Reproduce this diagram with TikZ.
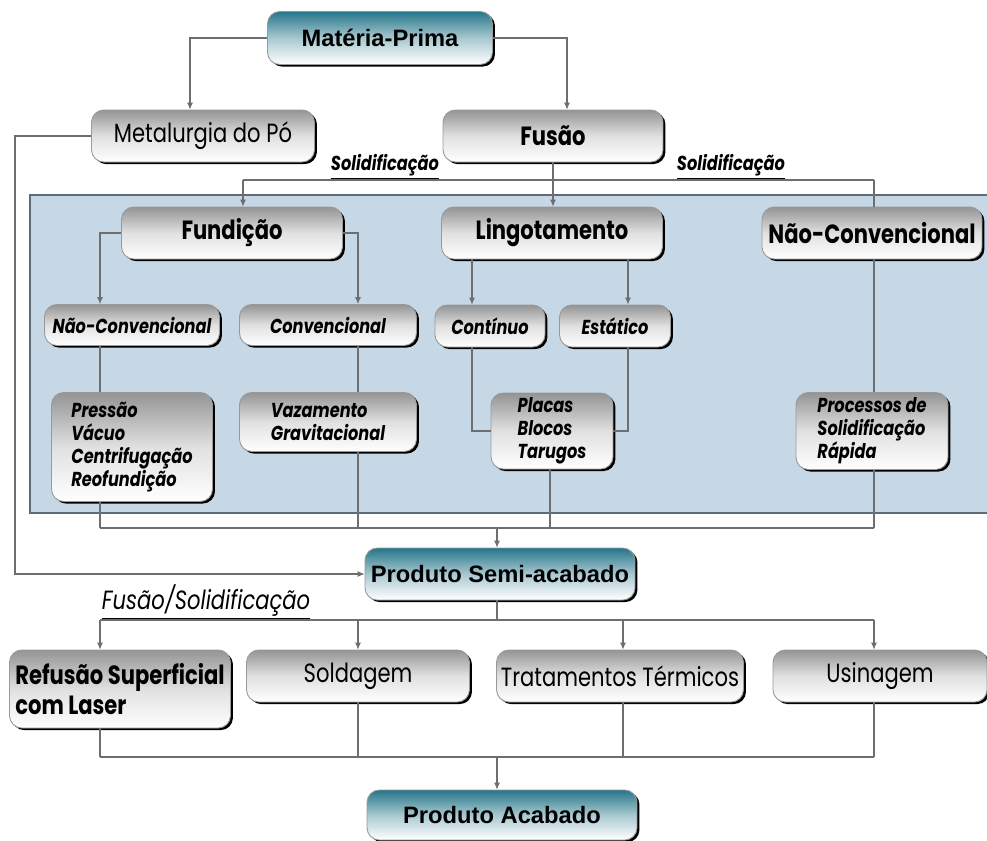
\documentclass[tikz,border=0pt]{standalone}
\usepackage{fontspec}
\setmainfont{Poppins}[FakeStretch=0.8]
\newfontfamily\headfont{Liberation Sans}
\usetikzlibrary{arrows.meta,shadows}

\definecolor{boxteal}{RGB}{38,118,138}
\definecolor{panelblue}{RGB}{198,216,229}
\definecolor{panelline}{RGB}{95,108,120}
\definecolor{linegray}{RGB}{110,110,110}

\tikzset{
  gbox/.style={rounded corners=7pt, draw=black!40, line width=0.5pt,
    top color=black!42, bottom color=white, middle color=black!12,
    drop shadow={shadow xshift=1.4pt,shadow yshift=-1.2pt,opacity=1,fill=black},
    align=center, inner sep=1pt},
  tbox/.style={gbox, top color=boxteal, bottom color=white, middle color=boxteal!40,
    font=\headfont\bfseries\fontsize{13.5}{15}\selectfont},
  txtr/.style={font=\fontsize{15}{18}\selectfont},
  txtb/.style={font=\bfseries\fontsize{15}{17}\selectfont},
  txti/.style={font=\bfseries\itshape\fontsize{11.5}{13}\selectfont},
  lbl/.style={font=\bfseries\itshape\fontsize{11.5}{13}\selectfont},
  conn/.style={draw=linegray, line width=0.6pt},
  arr/.style={conn, -{Latex[length=4pt,width=3.5pt]}}
}

\begin{document}
\begin{tikzpicture}[x=0.02cm,y=-0.02cm]
  \useasboundingbox (0,0) rectangle (987,840);

  % painel
  \fill[panelblue] (30,195) rectangle (995,513);
  \draw[panelline, line width=1pt] (995,195) -- (30,195) -- (30,513) -- (995,513);

  % colunas e linhas
  \coordinate (xl) at (15,0);
  \coordinate (xp) at (190,0);
  \coordinate (xf) at (567,0);
  \coordinate (xs) at (243,0);
  \coordinate (xa) at (100,0);
  \coordinate (xb) at (358,0);
  \coordinate (xc) at (472,0);
  \coordinate (xd) at (628,0);
  \coordinate (xr) at (550,0);
  \coordinate (xt) at (623,0);
  \coordinate (xe) at (874,0);
  \coordinate (xm) at (497,0);
  \coordinate (ys) at (0,180);
  \coordinate (yc) at (0,528);
  \coordinate (yf) at (0,620);
  \coordinate (yg) at (0,757);

  \node[tbox, minimum width=4.5cm, minimum height=1.06cm] (mp) at (380,38) {Matéria-Prima};
  \node[gbox, txtr, minimum width=4.46cm, minimum height=1.04cm] (metal) at (203,136) {Metalurgia do Pó};
  \node[gbox, txtb, minimum width=4.4cm, minimum height=1.04cm] (fusao) at (553,136) {Fusão};

  \node[lbl] (sol1) at (385,167) {\underline{Solidificação}};
  \node[lbl] (sol2) at (731,167) {\underline{Solidificação}};

  \node[gbox, txtb, minimum width=4.42cm, minimum height=1.04cm] (fund) at (232,233) {Fundição};
  \node[gbox, txtb, minimum width=4.42cm, minimum height=1.04cm] (ling) at (552,233) {Lingotamento};
  \node[gbox, txtb, minimum width=4.4cm, minimum height=1.04cm] (nc1) at (872,233) {Não-Convencional};

  \node[gbox, txti, minimum width=3.5cm, minimum height=0.82cm] (nc2) at (132,325) {Não-Convencional};
  \node[gbox, txti, minimum width=3.54cm, minimum height=0.82cm] (conv) at (328,325) {Convencional};
  \node[gbox, txti, minimum width=2.2cm, minimum height=0.84cm] (cont) at (490,326) {Contínuo};
  \node[gbox, txti, minimum width=2.22cm, minimum height=0.84cm] (est) at (615,326) {Estático};

  \node[gbox, txti, align=left, minimum width=3.22cm, minimum height=2.18cm] (press) at (132,447) {Pressão\\Vácuo\\Centrifugação\\Reofundição};
  \node[gbox, txti, align=left, minimum width=3.54cm, minimum height=1.18cm] (vaz) at (328,422) {Vazamento\\Gravitacional};
  \node[gbox, txti, align=left, minimum width=2.44cm, minimum height=1.52cm] (plac) at (552,431) {Placas\\Blocos\\Tarugos};
  \node[gbox, txti, align=left, minimum width=3.04cm, minimum height=1.54cm] (proc) at (872,431) {Processos de\\Solidificação\\Rápida};

  \node[tbox, minimum width=5.4cm, minimum height=1.04cm] (semi) at (500,574) {Produto Semi-acabado};
  \node[font=\itshape\fontsize{15}{17}\selectfont] (fussol) at (206,602) {\underline{Fusão/Solidificação}};

  \node[gbox, txtb, align=left, minimum width=4.42cm, minimum height=1.56cm] (refus) at (120,689) {Refusão Superficial\\com Laser};
  \node[gbox, txtr, minimum width=4.46cm, minimum height=1.04cm] (sold) at (358,676) {Soldagem};
  \node[gbox, txtr, minimum width=4.94cm, minimum height=1.04cm] (trat) at (620,676) {Tratamentos Térmicos};
  \node[gbox, txtr, minimum width=4.28cm, minimum height=1.04cm] (usin) at (880,676) {Usinagem};

  \node[tbox, minimum width=5.4cm, minimum height=1.0cm] (acab) at (502,815) {Produto Acabado};

  % ligacoes do topo
  \draw[arr] (mp.west) -| (metal.north -| xp);
  \draw[arr] (mp.east) -| (fusao.north -| xf);
  \draw[arr] (metal.west) -| (semi.west -| xl) -- (semi.west);
  \draw[arr] (fusao.south) -- (fusao.south |- ling.north);
  \draw[conn] (xs |- ys) -- (xe |- ys);
  \draw[arr] (xs |- ys) -- (fund.north -| xs);
  \draw[conn] (xe |- ys) -- (nc1.north -| xe);

  % fundicao e lingotamento
  \draw[arr] (fund.west) -| (nc2.north -| xa);
  \draw[arr] (fund.east) -| (conv.north -| xb);
  \draw[arr] (ling.south -| xc) -- (cont.north -| xc);
  \draw[arr] (ling.south -| xd) -- (est.north -| xd);
  \draw[conn] (nc2.south -| xa) -- (press.north -| xa);
  \draw[conn] (conv.south -| xb) -- (vaz.north -| xb);
  \draw[conn] (cont.south -| xc) |- (plac.west);
  \draw[conn] (est.south -| xd) |- (plac.east);
  \draw[conn] (nc1.south -| xe) -- (proc.north -| xe);

  % saidas para o semi-acabado
  \draw[conn] (press.south -| xa) -- (xa |- yc);
  \draw[conn] (vaz.south -| xb) -- (xb |- yc);
  \draw[conn] (plac.south -| xr) -- (xr |- yc);
  \draw[conn] (proc.south -| xe) -- (xe |- yc);
  \draw[conn] (xa |- yc) -- (xe |- yc);
  \draw[arr] (xm |- yc) -- (semi.north -| xm);

  % processos finais
  \draw[conn] (semi.south -| xm) -- (xm |- yf);
  \draw[conn] (xa |- yf) -- (xe |- yf);
  \draw[arr] (xa |- yf) -- (refus.north -| xa);
  \draw[arr] (xb |- yf) -- (sold.north -| xb);
  \draw[arr] (xt |- yf) -- (trat.north -| xt);
  \draw[arr] (xe |- yf) -- (usin.north -| xe);
  \draw[conn] (refus.south -| xa) -- (xa |- yg);
  \draw[conn] (sold.south -| xb) -- (xb |- yg);
  \draw[conn] (trat.south -| xt) -- (xt |- yg);
  \draw[conn] (usin.south -| xe) -- (xe |- yg);
  \draw[conn] (xa |- yg) -- (xe |- yg);
  \draw[arr] (xm |- yg) -- (acab.north -| xm);
\end{tikzpicture}
\end{document}
